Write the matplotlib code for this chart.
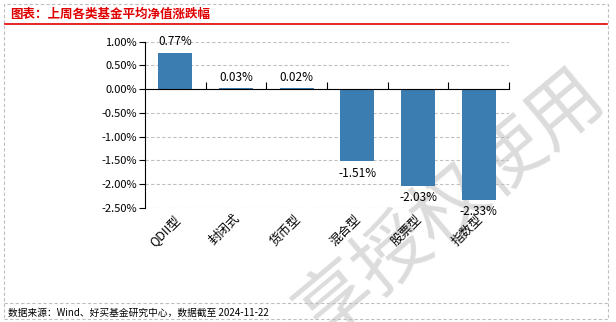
import matplotlib
matplotlib.use('Agg')
import matplotlib.pyplot as plt
from matplotlib.lines import Line2D
from matplotlib.patches import Rectangle

plt.rcParams['font.family'] = ['Noto Sans CJK SC', 'DejaVu Sans']

categories = ['QDII型', '封闭式', '货币型', '混合型', '股票型', '指数型']
values = [0.77, 0.03, 0.02, -1.51, -2.03, -2.33]
yticks = [1.0, 0.5, 0.0, -0.5, -1.0, -1.5, -2.0, -2.5]

title = '图表：上周各类基金平均净值涨跌幅'
source = '数据来源：Wind、好买基金研究中心，数据截至 2024-11-22'

W, H = 616, 322
fig = plt.figure(figsize=(W / 100, H / 100), dpi=100)

def fx(px):
    return px / W

def fy(py):
    return 1 - py / H

# frame, title rule, footer rule
fig.patches.append(Rectangle((fx(4), fy(319)), fx(604), 315 / H, transform=fig.transFigure,
                             fill=False, ec='#bfbfbf', lw=0.8, ls=(0, (3, 2))))
fig.lines.append(Line2D([fx(5), fx(607)], [fy(24), fy(24)], transform=fig.transFigure,
                        color='#e00000', lw=1.2))
fig.lines.append(Line2D([fx(4), fx(608)], [fy(303), fy(303)], transform=fig.transFigure,
                        color='#bfbfbf', lw=0.8, ls=(0, (3, 2))))

# watermark (behind everything)
fig.text(fx(452), fy(205), '享授权使用', rotation=40, ha='center', va='center',
         fontsize=54, color='#dcdcdc', zorder=-5)

fig.text(fx(10), fy(14), title, color='#e00000', fontsize=9, fontweight='bold',
         ha='left', va='center')
fig.text(fx(8), fy(313), source, color='black', fontsize=7, ha='left', va='center')

ax = fig.add_axes([fx(145), fy(208), fx(509 - 145), (208 - 41.7) / H])
ax.patch.set_alpha(0)
x = list(range(len(categories)))
ax.bar(x, values, width=0.56, color='#3b7db0', zorder=3)
ax.set_xlim(-0.5, len(categories) - 0.5)
ax.set_ylim(-2.5, 1.0)

ax.set_yticks(yticks)
ax.set_yticklabels(['%.2f%%' % v for v in yticks], fontsize=8)
ax.tick_params(axis='y', direction='out', length=4, width=0.8, pad=2)
ax.grid(axis='y', color='#c0c0c0', ls=(0, (3, 2)), lw=0.8, zorder=0)

for s in ['top', 'right']:
    ax.spines[s].set_visible(False)
ax.spines['bottom'].set_position(('data', 0))
ax.spines['bottom'].set_zorder(4)
ax.set_xticks([i + 0.5 for i in x])
ax.set_xticklabels([])
ax.tick_params(axis='x', direction='in', length=5, width=0.8)

for i, v in enumerate(values):
    if v >= 0:
        ax.annotate('%.2f%%' % v, (i, v), xytext=(0, 3), textcoords='offset points',
                    ha='center', va='bottom', fontsize=8.5)
    else:
        ax.annotate('%.2f%%' % v, (i, v), xytext=(0, -4), textcoords='offset points',
                    ha='center', va='top', fontsize=8.5)

for i, c in enumerate(categories):
    ax.annotate(c, (i, 0), xycoords=('data', 'axes fraction'), xytext=(-2, -3),
                textcoords='offset points', rotation=45, rotation_mode='anchor',
                ha='right', va='top', fontsize=9)

fig.savefig('out.png', dpi=100)
